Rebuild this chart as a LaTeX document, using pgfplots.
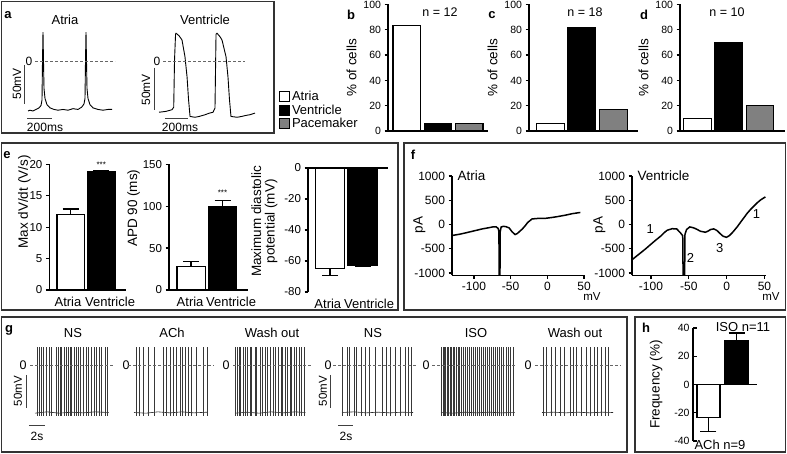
\documentclass[border=0pt]{standalone}
\usepackage{pgfplots}
\pgfplotsset{compat=1.18}
\usepackage{fontspec}
\setmainfont{Liberation Sans}
\newcommand{\fs}[1]{\fontsize{#1}{#1}\selectfont}
\tikzset{
  spk/.style={black!78, line width=0.45pt},
  zl/.style={densely dashed, black!60, line width=0.5pt},
  sb/.style={black!75, line width=1pt},
}
\pgfplotsset{
  every axis/.append style={scale only axis, anchor=south west, clip=false,
    /pgf/number format/assume math mode=true, /pgf/number format/1000 sep={},
    tick label style={font=\fs{10.5}}, label style={font=\fs{13.5}},
    axis line style={line width=1.6pt}, tick style={black, line width=1.2pt},
    major tick length=3.5pt, tick align=outside},
  trace/.style={axis lines=none, xtick=\empty, ytick=\empty},
  barax/.style={axis lines*=left, ybar, bar shift=0pt, xtick=\empty,
    every axis plot/.append style={draw=black, line width=1.3pt}},
  pct/.style={barax, ymin=0, ymax=100, ytick={0,20,...,100}, height=126.5pt, bar width=0.88, ylabel={\% of cells}},
  ebar/.style={error bars/.cd, y explicit, y dir=#1, error bar style={line width=1.3pt, black},
    error mark options={rotate=90, line width=1.3pt, black, mark size=8pt}},
  gtr/.style={trace, width=73.6pt, height=75.9pt, xmin=0, xmax=9.2, ymin=-80, ymax=35},
}
\begin{document}
\begin{tikzpicture}
\path[use as bounding box] (0pt,0pt) rectangle (787pt,454pt);
% panel frames
\begin{scope}[line width=1.3pt, black!80]
\draw (1.5pt,452.5pt) rectangle (274pt,321pt);
\draw (1.5pt,311pt) rectangle (398pt,144pt);
\draw (404pt,311pt) rectangle (785.5pt,144pt);
\draw (1.5pt,137pt) rectangle (627pt,2pt);
\draw (635pt,137pt) rectangle (785.5pt,2pt);
\end{scope}
% ---------------- panel a
\node[font=\bfseries\fs{13}] at (8pt,439pt) {a};
\node[font=\fs{13}] at (65pt,434pt) {Atria};
\node[font=\fs{13}] at (205pt,434pt) {Ventricle};
\begin{axis}[trace, at={(28pt,338.3pt)}, width=84pt, height=89.9pt, xmin=0, xmax=672, ymin=-70, ymax=45]
\addplot[black, line width=0.9pt] coordinates {(0,-64) (16,-63) (40,-64) (64,-62) (88,-60) (104,-57) (112,-50) (116,0) (120,37) (124,0) (128,-35) (136,-48) (152,-56) (176,-60) (208,-62) (240,-63) (280,-62) (320,-63) (360,-61) (400,-62) (430,-59) (448,-55) (456,-48) (460,0) (464,37) (468,0) (472,-35) (480,-48) (496,-56) (520,-60) (560,-62) (600,-63) (640,-62) (672,-62)};
\draw[zl] (axis cs:56,0) -- (axis cs:696,0);
\draw[sb] (axis cs:-32,-5) -- (axis cs:-32,-55);
\draw[sb] (axis cs:-8,-74) -- (axis cs:192,-74);
\end{axis}
\node[font=\fs{12}] at (29pt,393pt) {0};
\node[font=\fs{12}, rotate=90] at (17pt,370pt) {50mV};
\node[font=\fs{12}] at (45pt,327pt) {200ms};
\begin{axis}[trace, at={(159pt,330pt)}, width=96pt, height=96.6pt, xmin=0, xmax=835, ymin=-75, ymax=40]
\addplot[black, line width=0.9pt] coordinates {(0,-61) (60,-60) (113,-58) (128,-55) (135,1) (144,32) (148,33) (175,30) (200,25) (226,5) (244,-19) (257,-46) (270,-66) (313,-67) (350,-66) (400,-64) (440,-62) (470,-61) (487,-56) (496,32) (505,33) (530,29) (548,25) (583,5) (600,-19) (613,-46) (626,-66) (679,-67) (720,-66) (748,-65) (790,-64) (835,-62)};
\draw[zl] (axis cs:35,0) -- (axis cs:748,0);
\draw[sb] (axis cs:-43,-8) -- (axis cs:-43,-58);
\draw[sb] (axis cs:52,-69) -- (axis cs:252,-69);
\end{axis}
\node[font=\fs{12}] at (157pt,393pt) {0};
\node[font=\fs{12}, rotate=90] at (146pt,364pt) {50mV};
\node[font=\fs{12}] at (180pt,327pt) {200ms};
% ---------------- panels b c d
\node[font=\bfseries\fs{13}] at (351pt,439pt) {b};
\node[font=\bfseries\fs{13}] at (492pt,439pt) {c};
\node[font=\bfseries\fs{13}] at (644pt,439pt) {d};
\node[font=\fs{12.5}] at (440pt,442pt) {n = 12};
\node[font=\fs{12.5}] at (585pt,442pt) {n = 18};
\node[font=\fs{12.5}] at (727pt,442pt) {n = 10};
\begin{axis}[pct, at={(388pt,323pt)}, width=100pt, xmin=0.4, xmax=3.6,
  legend style={at={(-1.09,0.332)}, anchor=north west, draw=none, fill=none, font=\fs{13}, row sep=-1.5pt, inner sep=0pt, cells={anchor=west}},
  legend image code/.code={\draw[#1, line width=0.8pt] (0pt,-5pt) rectangle (10pt,5pt);}]
\addplot[fill=white] coordinates {(1,83.3)};
\addplot[fill=black] coordinates {(2,6)};
\addplot[fill=gray] coordinates {(3,6)};
\legend{Atria,Ventricle,Pacemaker}
\end{axis}
\begin{axis}[pct, at={(529pt,323pt)}, width=109pt, xmin=0.32, xmax=3.78]
\addplot[fill=white] coordinates {(1,6)};
\addplot[fill=black] coordinates {(2,82)};
\addplot[fill=gray] coordinates {(3,17)};
\end{axis}
\begin{axis}[pct, at={(680pt,323pt)}, width=105pt, xmin=0.44, xmax=3.8]
\addplot[fill=white] coordinates {(1,10)};
\addplot[fill=black] coordinates {(2,70)};
\addplot[fill=gray] coordinates {(3,20)};
\end{axis}
% ---------------- panel e
\node[font=\bfseries\fs{13}] at (7pt,299pt) {e};
\begin{axis}[barax, at={(49.4pt,164pt)}, width=76.2pt, height=125.7pt, xmin=0.3, xmax=2.8, ymin=0, ymax=20, ytick={0,5,...,20}, bar width=0.9,
  tick label style={font=\fs{11.5}},
  xtick={0.91,2.29}, xticklabels={Atria,Ventricle}, major x tick style={draw=none}, xticklabel style={font=\fs{13}},
  ylabel={Max dV/dt (V/s)}, ylabel style={at={(ticklabel cs:0.7)}}, ylabel shift=-8pt]
\addplot[fill=white, ebar=plus] coordinates {(1,12.0) +- (0,0.9)};
\addplot[fill=black, ebar=plus] coordinates {(2,18.8) +- (0,0.25)};
\node[font=\fs{8}] at (axis cs:2,20) {***};
\end{axis}
\begin{axis}[barax, at={(169pt,164pt)}, width=78.75pt, height=125.7pt, xmin=0.3, xmax=2.8, ymin=0, ymax=150, ytick={0,50,100,150}, bar width=0.9,
  tick label style={font=\fs{11.5}},
  xtick={0.97,2.27}, xticklabels={Atria,Ventricle}, major x tick style={draw=none}, xticklabel style={font=\fs{13}},
  ylabel={APD 90 (ms)}, ylabel style={at={(ticklabel cs:0.65)}}, ylabel shift=-4pt]
\addplot[fill=white, ebar=plus] coordinates {(1,27.8) +- (0,6)};
\addplot[fill=black, ebar=plus] coordinates {(2,99.5) +- (0,7.5)};
\node[font=\fs{8}] at (axis cs:2,116) {***};
\end{axis}
\begin{axis}[barax, at={(308pt,162pt)}, width=80pt, height=124pt, xmin=0.32, xmax=2.78, ymin=-80, ymax=0, ytick={-80,-60,...,0}, bar width=0.9,
  tick label style={font=\fs{11.5}}, x axis line style={draw=none},
  xtick={0.93,2.2}, xticklabels={Atria,Ventricle}, major x tick style={draw=none}, xticklabel style={font=\fs{13}},
  ylabel={Maximum diastolic\\potential (mV)}, ylabel style={align=center, at={(ticklabel cs:0.57)}}]
\addplot[fill=white, ebar=minus] coordinates {(1,-65) +- (0,4.5)};
\addplot[fill=black, ebar=minus] coordinates {(2,-62.5) +- (0,1)};
\draw[line width=1.6pt] (axis cs:0.32,0) -- (axis cs:2.78,0);
\end{axis}
% ---------------- panel f
\node[font=\bfseries\fs{13}] at (413pt,299pt) {f};
\begin{axis}[at={(452pt,178.5pt)}, width=132pt, height=99.4pt, axis lines*=left, clip=true,
  xmin=-130, xmax=50, ymin=-1050, ymax=1000, xtick={-100,-50,0,50}, ytick={-1000,-500,0,500,1000},
  tick label style={font=\fs{12}}, ylabel={pA}, ylabel style={at={(rel axis cs:-0.175,0.51)}, anchor=south}]
\addplot[black, line width=1.5pt] coordinates {(-130,-225) (-120,-200) (-111,-170) (-100,-130) (-89,-90) (-80,-65) (-75,-50) (-70,-45) (-67,-80) (-66,-150) (-65.7,-1050) (-64.6,-1050) (-64.3,-150) (-63,-50) (-60,-35) (-56,-45) (-52,-70) (-48,-150) (-44,-205) (-41,-185) (-37,-130) (-34,-90) (-30,-20) (-27,40) (-21,115) (-15,125) (-2,130) (8,150) (16,170) (25,195) (34,225) (45,250)};
\end{axis}
\node[font=\fs{13.5}, anchor=west] at (454pt,278pt) {Atria};
\node[font=\fs{11.5}] at (592pt,157pt) {mV};
\begin{axis}[at={(632pt,178.5pt)}, width=134pt, height=99.4pt, axis lines*=left, clip=true,
  xmin=-125, xmax=52, ymin=-1050, ymax=1000, xtick={-100,-50,0,50}, ytick={-1000,-500,0,500,1000},
  tick label style={font=\fs{12}}, ylabel={pA}, ylabel style={at={(rel axis cs:-0.172,0.51)}, anchor=south}]
\addplot[black, line width=1.5pt] coordinates {(-124.7,-722) (-119,-650) (-113.7,-584) (-107,-500) (-100.5,-412) (-94,-325) (-87.3,-241) (-82,-160) (-78.5,-117) (-72,-85) (-66,-89) (-61,-171) (-58,-230) (-57.5,-1050) (-55.5,-1050) (-55,-200) (-53,-103) (-48.7,-48) (-43.4,-68) (-39,-100) (-34.6,-138) (-28,-158) (-24,-130) (-21.4,-103) (-17,-89) (-13,-120) (-10.4,-158) (-7,-210) (-4.6,-241) (-0.3,-262) (3.5,-230) (7.3,-171) (13.9,-48) (18,40) (22.7,138) (27,230) (31.4,309) (36,380) (40.2,447) (45,510) (51.2,571)};
\node[font=\fs{13}] at (axis cs:-101,-89) {1};
\node[font=\fs{13}] at (axis cs:-47.8,-687) {2};
\node[font=\fs{13}] at (axis cs:-9.1,-481) {3};
\node[font=\fs{13}] at (axis cs:39.3,227) {1};
\end{axis}
\node[font=\fs{13.5}, anchor=west] at (634pt,278pt) {Ventricle};
\node[font=\fs{11.5}] at (771pt,157pt) {mV};
% ---------------- panel g
\node[font=\bfseries\fs{13}] at (9pt,124pt) {g};
\foreach \xx/\tt in {73/NS,172/ACh,272/Wash out,373/NS,476/ISO,575/Wash out}{\node[font=\fs{13}] at (\xx pt,121pt) {\tt};}
\foreach \xx in {23,126,226,328,426,528}{\node[font=\fs{12.5}] at (\xx pt,89pt) {0};}
\begin{axis}[gtr, at={(35pt,36.2pt)}]
\addplot[black!85, line width=0.6pt] coordinates {(0,-73) (1.5,-71) (3,-73) (4.5,-71.5) (6,-72.5) (7.5,-71) (9.2,-72)};
\pgfplotsinvokeforeach{0.29,0.5,0.75,1.04,1.46,1.79,2.09,2.63,2.91,3.13,3.34,3.63,3.88,4.16,4.38,4.59,4.88,5.13,5.41,5.71,6.04,6.38,6.66,7.09,7.38,7.71,8.04,8.34,8.75,9.09}{\addplot[spk] coordinates {(#1,-77) (#1,28)};}
\draw[zl] (axis cs:-0.6,0) -- (axis cs:10,0);
\draw[sb] (axis cs:-1,-15) -- (axis cs:-1,-65);
\draw[sb] (axis cs:-0.75,-91) -- (axis cs:1.25,-91);
\end{axis}
\node[font=\fs{11.5}, rotate=90] at (18pt,63pt) {50mV};
\node[font=\fs{12}] at (37pt,18pt) {2s};
\begin{axis}[gtr, at={(134pt,36.2pt)}]
\addplot[black!85, line width=0.6pt] coordinates {(0,-72) (1.5,-73) (3,-71) (4.5,-72.5) (6,-71) (7.5,-72.5) (9.2,-71.5)};
\pgfplotsinvokeforeach{0.25,0.67,1.17,1.79,2.54,3.67,4.08,4.5,4.92,5.33,5.75,6.08,6.38,6.79,7.21,7.83,8.67,9.17}{\addplot[spk] coordinates {(#1,-77) (#1,28)};}
\draw[zl] (axis cs:-0.75,0) -- (axis cs:9.9,0);
\end{axis}
\begin{axis}[gtr, at={(235pt,36.2pt)}]
\addplot[black!85, line width=0.6pt] coordinates {(0,-73) (1.5,-71.5) (3,-73) (4.5,-71) (6,-72.5) (7.5,-71) (8.8,-72)};
\pgfplotsinvokeforeach{0.08,0.29,0.5,0.71,1.04,1.25,1.58,1.88,2.08,2.5,2.71,3.13,3.41,3.75,4.08,4.38,4.79,5,5.41,5.75,5.96,6.25,6.58,6.88,7.08,7.41,7.71,8,8.33,8.66}{\addplot[spk] coordinates {(#1,-77) (#1,28)};}
\draw[zl] (axis cs:-0.25,0) -- (axis cs:9.6,0);
\end{axis}
\begin{axis}[gtr, at={(342pt,36.2pt)}]
\addplot[black!85, line width=0.6pt] coordinates {(0,-72) (1.5,-71) (3,-72.5) (4.5,-71.5) (6,-72.5) (7.5,-71.5) (8.9,-72)};
\pgfplotsinvokeforeach{0.05,0.6,0.9,1.55,1.75,2.4,2.9,3.4,4.1,5.0,5.5,6.0,6.6,7.25,7.9,8.3,8.7}{\addplot[spk] coordinates {(#1,-77) (#1,28)};}
\draw[zl] (axis cs:-1.1,0) -- (axis cs:9.4,0);
\draw[sb] (axis cs:-1.4,-15) -- (axis cs:-1.4,-65);
\draw[sb] (axis cs:-0.5,-91) -- (axis cs:1.4,-91);
\end{axis}
\node[font=\fs{11.5}, rotate=90] at (323pt,63pt) {50mV};
\node[font=\fs{12}] at (346pt,18pt) {2s};
\begin{axis}[gtr, at={(441pt,36.2pt)}]
\addplot[black!85, line width=0.6pt] coordinates {(0,-72) (1.5,-73) (3,-71.5) (4.5,-72.5) (6,-71.5) (7.5,-72.5) (9.2,-72)};
\pgfplotsinvokeforeach{0.05,0.22,0.4,0.58,0.76,0.94,1.12,1.3,1.5,1.7,1.9,2.1,2.32,2.54,2.76,3.0,3.25,3.5,3.75,4.0,4.25,4.5,4.78,5.05,5.3,5.55,5.8,6.05,6.3,6.55,6.8,7.05,7.3,7.55,7.8,8.1,8.4,8.7,9.0}{\addplot[spk] coordinates {(#1,-77) (#1,28)};}
\draw[zl] (axis cs:-1.1,0) -- (axis cs:9.5,0);
\end{axis}
\begin{axis}[gtr, at={(542pt,36.2pt)}]
\addplot[black!85, line width=0.6pt] coordinates {(0,-72) (1.5,-71.5) (3,-72.5) (4.5,-71.5) (6,-72.5) (7.5,-71.5) (8.9,-72)};
\pgfplotsinvokeforeach{0.17,0.58,1.13,1.71,2.25,2.79,3.5,3.92,4.33,4.96,5.5,6.0,6.5,6.96,7.46,7.88,8.29}{\addplot[spk] coordinates {(#1,-77) (#1,28)};}
\draw[zl] (axis cs:-0.9,0) -- (axis cs:9.75,0);
\end{axis}
% ---------------- panel h
\node[font=\bfseries\fs{13}] at (646pt,126pt) {h};
\begin{axis}[barax, at={(693pt,13pt)}, width=64pt, height=113pt, xmin=0.45, xmax=2.73, ymin=-40, ymax=40, ytick={-40,-20,...,40}, bar width=0.82,
  x axis line style={draw=none}, tick align=inside, ylabel={Frequency (\%)}, ylabel shift=5pt]
\addplot[fill=white, ebar=minus] coordinates {(1,-23.5) +- (0,10)};
\addplot[fill=black, ebar=plus] coordinates {(2,31) +- (0,5.5)};
\draw[line width=1.6pt] (axis cs:0.45,0) -- (axis cs:2.73,0);
\end{axis}
\node[font=\fs{13}] at (743pt,127pt) {ISO n=11};
\node[font=\fs{13}] at (720pt,9pt) {ACh n=9};
\end{tikzpicture}
\end{document}
